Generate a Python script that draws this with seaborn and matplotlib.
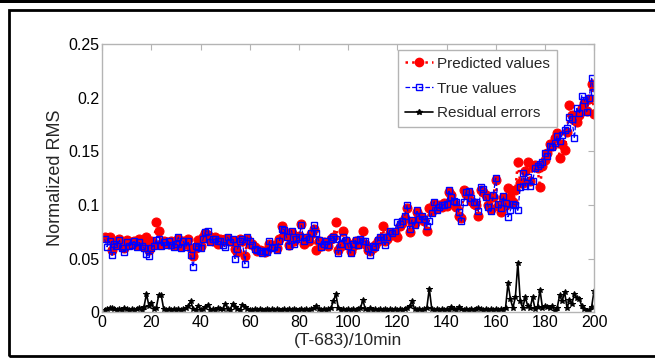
import numpy as np
import pandas as pd
import seaborn as sns
import matplotlib.pyplot as plt
from matplotlib.patches import Rectangle
from matplotlib.lines import Line2D

# Zeitindex
t_index = list(range(1, 201))

# Wahre Werte
true_values = [
    0.068, 0.061, 0.066, 0.053, 0.064, 0.062, 0.067, 0.060, 0.056, 0.065,
    0.062, 0.063, 0.066, 0.061, 0.065, 0.062, 0.060, 0.054, 0.052, 0.060,
    0.062, 0.067, 0.068, 0.062, 0.065, 0.063, 0.066, 0.063, 0.061, 0.064,
    0.070, 0.060, 0.066, 0.061, 0.066, 0.053, 0.042, 0.062, 0.061, 0.060,
    0.068, 0.075, 0.076, 0.065, 0.068, 0.068, 0.066, 0.066, 0.063, 0.061,
    0.070, 0.065, 0.068, 0.050, 0.059, 0.066, 0.068, 0.045, 0.070, 0.066,
    0.063, 0.059, 0.058, 0.057, 0.055, 0.057, 0.056, 0.066, 0.060, 0.061,
    0.058, 0.066, 0.078, 0.077, 0.070, 0.062, 0.076, 0.064, 0.068, 0.070,
    0.081, 0.066, 0.070, 0.068, 0.074, 0.081, 0.074, 0.067, 0.061, 0.064,
    0.066, 0.063, 0.068, 0.070, 0.068, 0.055, 0.064, 0.070, 0.067, 0.062,
    0.055, 0.064, 0.067, 0.063, 0.068, 0.066, 0.066, 0.060, 0.053, 0.062,
    0.061, 0.067, 0.070, 0.070, 0.063, 0.070, 0.076, 0.074, 0.076, 0.084,
    0.082, 0.085, 0.090, 0.100, 0.078, 0.086, 0.081, 0.095, 0.087, 0.090,
    0.087, 0.080, 0.085, 0.092, 0.103, 0.095, 0.098, 0.100, 0.100, 0.101,
    0.114, 0.107, 0.104, 0.103, 0.093, 0.085, 0.103, 0.112, 0.113, 0.106,
    0.103, 0.103, 0.094, 0.117, 0.115, 0.107, 0.098, 0.094, 0.109, 0.125,
    0.101, 0.097, 0.108, 0.102, 0.089, 0.095, 0.101, 0.100, 0.095, 0.117,
    0.130, 0.118, 0.126, 0.118, 0.122, 0.134, 0.136, 0.138, 0.140, 0.148,
    0.146, 0.155, 0.154, 0.158, 0.164, 0.160, 0.165, 0.170, 0.172, 0.182,
    0.180, 0.162, 0.190, 0.186, 0.202, 0.198, 0.187, 0.200, 0.218, 0.205,
]

# Vorhergesagte Werte
predicted_values = [
    0.070, 0.069, 0.070, 0.058, 0.066, 0.064, 0.068, 0.062, 0.060, 0.067,
    0.064, 0.064, 0.066, 0.063, 0.068, 0.062, 0.065, 0.070, 0.058, 0.066,
    0.064, 0.084, 0.076, 0.064, 0.066, 0.065, 0.064, 0.066, 0.063, 0.066,
    0.068, 0.062, 0.066, 0.064, 0.068, 0.060, 0.052, 0.060, 0.067, 0.062,
    0.070, 0.074, 0.072, 0.067, 0.066, 0.070, 0.064, 0.068, 0.066, 0.068,
    0.068, 0.066, 0.066, 0.059, 0.056, 0.068, 0.066, 0.052, 0.068, 0.064,
    0.064, 0.061, 0.057, 0.058, 0.057, 0.056, 0.058, 0.064, 0.062, 0.063,
    0.060, 0.068, 0.080, 0.076, 0.072, 0.063, 0.074, 0.066, 0.070, 0.071,
    0.082, 0.064, 0.068, 0.066, 0.073, 0.078, 0.058, 0.066, 0.062, 0.065,
    0.064, 0.062, 0.068, 0.070, 0.084, 0.058, 0.062, 0.076, 0.066, 0.064,
    0.057, 0.062, 0.066, 0.064, 0.066, 0.076, 0.064, 0.058, 0.057, 0.060,
    0.063, 0.066, 0.068, 0.080, 0.066, 0.068, 0.074, 0.072, 0.074, 0.070,
    0.080, 0.083, 0.088, 0.097, 0.075, 0.084, 0.083, 0.093, 0.090, 0.088,
    0.085, 0.076, 0.097, 0.094, 0.101, 0.097, 0.100, 0.098, 0.102, 0.099,
    0.112, 0.109, 0.102, 0.098, 0.090, 0.088, 0.114, 0.110, 0.111, 0.104,
    0.101, 0.100, 0.090, 0.114, 0.112, 0.109, 0.100, 0.096, 0.107, 0.123,
    0.099, 0.093, 0.106, 0.100, 0.116, 0.107, 0.103, 0.114, 0.140, 0.120,
    0.120, 0.132, 0.140, 0.122, 0.136, 0.137, 0.134, 0.117, 0.136, 0.142,
    0.148, 0.157, 0.155, 0.162, 0.167, 0.144, 0.157, 0.151, 0.168, 0.193,
    0.184, 0.179, 0.177, 0.184, 0.190, 0.195, 0.188, 0.199, 0.213, 0.185,
]

# Residuen
residual_errors = [
    0.002, 0.003, 0.004, 0.004, 0.003, 0.002, 0.003, 0.002, 0.004, 0.003,
    0.002, 0.003, 0.002, 0.003, 0.004, 0.002, 0.005, 0.017, 0.006, 0.009,
    0.003, 0.004, 0.016, 0.016, 0.003, 0.002, 0.003, 0.002, 0.003, 0.002,
    0.003, 0.002, 0.003, 0.004, 0.006, 0.010, 0.003, 0.002, 0.006, 0.002,
    0.003, 0.005, 0.007, 0.002, 0.003, 0.002, 0.004, 0.003, 0.003, 0.008,
    0.003, 0.002, 0.008, 0.005, 0.003, 0.002, 0.007, 0.005, 0.003, 0.002,
    0.002, 0.003, 0.002, 0.003, 0.002, 0.002, 0.003, 0.002, 0.003, 0.002,
    0.003, 0.002, 0.002, 0.003, 0.002, 0.003, 0.002, 0.003, 0.002, 0.002,
    0.003, 0.002, 0.003, 0.002, 0.003, 0.004, 0.006, 0.003, 0.002, 0.003,
    0.002, 0.003, 0.004, 0.010, 0.017, 0.004, 0.002, 0.003, 0.002, 0.003,
    0.002, 0.003, 0.002, 0.003, 0.004, 0.011, 0.003, 0.002, 0.004, 0.002,
    0.003, 0.002, 0.003, 0.002, 0.003, 0.002, 0.003, 0.002, 0.003, 0.002,
    0.003, 0.002, 0.003, 0.004, 0.006, 0.010, 0.003, 0.002, 0.003, 0.002,
    0.003, 0.004, 0.022, 0.003, 0.002, 0.003, 0.002, 0.003, 0.002, 0.003,
    0.002, 0.005, 0.003, 0.002, 0.005, 0.003, 0.002, 0.003, 0.002, 0.003,
    0.002, 0.003, 0.004, 0.003, 0.002, 0.003, 0.002, 0.003, 0.002, 0.003,
    0.002, 0.003, 0.002, 0.004, 0.027, 0.012, 0.004, 0.014, 0.046, 0.010,
    0.004, 0.014, 0.006, 0.004, 0.014, 0.003, 0.005, 0.021, 0.004, 0.006,
    0.005, 0.004, 0.006, 0.001, 0.004, 0.016, 0.010, 0.019, 0.004, 0.011,
    0.008, 0.017, 0.013, 0.012, 0.006, 0.003, 0.001, 0.002, 0.005, 0.020,
]

df = pd.DataFrame({
    't': t_index,
    'pred': predicted_values,
    'true': true_values,
    'resid': residual_errors,
})

sns.set_style("white")
plt.rcParams['font.family'] = ['Liberation Sans', 'DejaVu Sans']

fig = plt.figure(figsize=(6.55, 3.58), dpi=100)
ax = fig.add_axes([0.156, 0.128, 0.751, 0.749])

sns.lineplot(data=df, x='t', y='pred', ax=ax, color='red', linestyle=':',
             linewidth=1.8, marker='o', markersize=6.5, markeredgecolor='red',
             markerfacecolor='red', label='Predicted values')
sns.lineplot(data=df, x='t', y='true', ax=ax, color='blue', linestyle='--',
             linewidth=0.9, marker='s', markersize=5, markeredgecolor='blue',
             markerfacecolor='none', markeredgewidth=1.0, label='True values')
sns.lineplot(data=df, x='t', y='resid', ax=ax, color='black', linestyle='-',
             linewidth=1.2, marker='*', markersize=4, markeredgecolor='black',
             label='Residual errors')

ax.set_xlim(0, 200)
ax.set_ylim(0, 0.25)
ax.set_xticks(np.arange(0, 201, 20))
ax.set_yticks([0, 0.05, 0.1, 0.15, 0.2, 0.25])
ax.set_yticklabels(['0', '0.05', '0.1', '0.15', '0.2', '0.25'])

for sp in ax.spines.values():
    sp.set_color('#b4b4b4')
    sp.set_linewidth(1.0)
ax.tick_params(direction='in', length=4, color='#b4b4b4', labelsize=11.5,
               labelcolor='black', top=True, right=True, pad=2)

ax.set_xlabel('(T-683)/10min', fontsize=12.5, labelpad=2)
ax.set_ylabel('Normalized RMS', fontsize=13, labelpad=3)

handles = [
    Line2D([], [], color='red', linestyle=':', linewidth=1.8, marker='o', markersize=6),
    Line2D([], [], color='blue', linestyle='--', linewidth=0.9, marker='s', markersize=4,
           markerfacecolor='none'),
    Line2D([], [], color='black', linestyle='-', linewidth=1.2, marker='*', markersize=4),
]
leg = ax.legend(handles, ['Predicted values', 'True values', 'Residual errors'],
                loc='upper left', bbox_to_anchor=(0.602, 0.978), borderaxespad=0,
                fontsize=11, frameon=True, fancybox=False, framealpha=1,
                edgecolor='#b4b4b4', handlelength=1.8, borderpad=0.45,
                labelspacing=0.7, handletextpad=0.3)
leg.get_frame().set_linewidth(1.0)

# Rahmen um die Abbildung
W, H = 655, 358
fig.add_artist(Rectangle((0, 1 - 3 / H), 1, 3 / H, transform=fig.transFigure,
                         facecolor='black', edgecolor='none'))
fig.add_artist(Rectangle((9 / W, 2 / H), 1.2, 1 - 12 / H, transform=fig.transFigure,
                         facecolor='none', edgecolor='black', linewidth=2))

fig.savefig('out.png', dpi=100)
